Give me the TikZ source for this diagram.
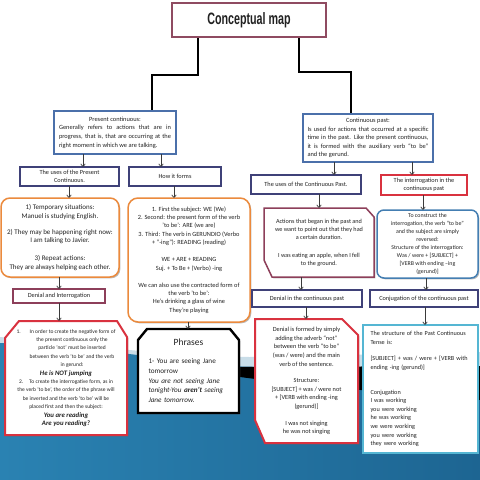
\documentclass[tikz,border=0pt]{standalone}
\usepackage{fontspec}
\usepackage{graphicx}
\setmainfont{Carlito}
\newfontfamily\titlefont{Liberation Sans}
\usetikzlibrary{shadows,arrows.meta,calc}
\pgfdeclarelayer{back}
\pgfdeclarelayer{bg}
\pgfsetlayers{back,bg,main}
\newcommand\myfs[2]{\fontsize{#1}{#2}\selectfont}
\definecolor{textc}{HTML}{222222}
\definecolor{navyc}{HTML}{3F4178}
\definecolor{bluec}{HTML}{4B70AA}
\definecolor{orangec}{HTML}{EB8A3D}
\definecolor{maroonc}{HTML}{8D3F5A}
\definecolor{redc}{HTML}{D9323F}
\definecolor{tealc}{HTML}{55B6D3}
\definecolor{titlec}{HTML}{8F4B61}
\definecolor{bandc}{HTML}{C9DDE8}
\definecolor{blueL}{HTML}{2A82B2}
\definecolor{blueM}{HTML}{5DBADC}
\definecolor{blueR}{HTML}{1D6592}
\definecolor{arrc}{HTML}{3A3A3A}
\begin{document}
\begin{tikzpicture}[x=1pt,y=-1pt,
  mybox/.style={inner sep=0pt,outer sep=0pt,align=center,text=textc,font=\myfs{6.3}{8}},
  boxshadow/.style={drop shadow={shadow xshift=1.3pt,shadow yshift=-1.3pt,fill=black!60,opacity=.45}},
  titlebox/.style={mybox,draw=titlec,line width=1.8pt,fill=white,boxshadow},
  navybox/.style={mybox,draw=navyc,line width=1.4pt,fill=white,boxshadow},
  bluebox/.style={mybox,draw=bluec,line width=1.6pt,fill=white,boxshadow},
  orangebox/.style={mybox,draw=orangec,line width=1.5pt,fill=white,rounded corners=9pt,boxshadow},
  maroonbox/.style={mybox,draw=maroonc,line width=1.4pt,fill=white,boxshadow},
  redbox/.style={mybox,draw=redc,line width=1.4pt,fill=white,boxshadow},
  tealbox/.style={mybox,draw=tealc,line width=2.6pt,fill=white,boxshadow},
  roundblue/.style={mybox,draw=bluec!90!cyan,line width=1.5pt,fill=white,rounded corners=7pt,boxshadow},
  redline/.style={draw=redc,line width=2pt,fill=white,boxshadow,line join=miter},
  maroonline/.style={draw=maroonc,line width=1.5pt,fill=white,boxshadow,line join=miter},
  blackline/.style={draw=black,line width=2.4pt,fill=white,boxshadow,line join=miter},
  arr/.style={draw=arrc,line width=0.7pt,-{Straight Barb[length=2.6pt,width=4.6pt]}},
  trunk/.style={draw=black,line width=2.8pt,line join=miter},
  trunkshadow/.style={draw=black!35,line width=2.8pt,line join=miter}
]
\useasboundingbox (0,0) rectangle (480,480);
% ---------------- background
\begin{pgfonlayer}{back}
\fill[white] (0,0) rectangle (480,480);
\fill[bandc] (0,337) .. controls (120,350) and (200,357) .. (250,357) -- (480,352) -- (480,480) -- (0,480) -- cycle;
\shade[left color=blueL,middle color=blueM,right color=blueR] (0,343) .. controls (80,347) and (150,356) .. (220,366) -- (480,372) -- (480,480) -- (0,480) -- cycle;
\fill[black] (175,362) .. controls (200,366) and (220,367) .. (240,367) -- (480,366) -- (480,400) .. controls (400,394) and (300,385) .. (240,377) .. controls (210,373) and (190,368) .. (175,362) -- cycle;
\end{pgfonlayer}
% ---------------- nodes
\node[titlebox,minimum width=154pt,minimum height=34pt] (T) at (249,20)
  {\scalebox{0.65}[1]{\myfs{16.5}{18}\titlefont\bfseries Conceptual map}};
\node[bluebox,minimum width=122pt,minimum height=43pt,text width=112pt,align=justify,font=\myfs{6.4}{8.7}] (PC) at (115,132.5)
  {\makebox[\linewidth]{Present continuous:}\\ Generally refers to actions that are in\linebreak progress, that is, that are occurring at the\linebreak right moment in which we are talking.};
\node[bluebox,minimum width=130pt,minimum height=48pt,text width=121pt,align=justify,font=\myfs{6.4}{8.6}] (CP) at (368,138)
  {\makebox[\linewidth]{Continuous past:}\\ Is used for actions that occurred at a specific\linebreak time in the past. Like the present continuous,\linebreak it is formed with the auxiliary verb “to be”\linebreak and the gerund.};
\node[navybox,minimum width=99pt,minimum height=19pt] (U1) at (69.5,176.5) {The uses of the Present\\ Continuous.};
\node[navybox,minimum width=92pt,minimum height=19pt] (HF) at (175,176.5) {How it forms};
\node[orangebox,minimum width=118pt,minimum height=79pt,font=\myfs{7}{8.8}] (O1) at (60,237.5)
  {1) Temporary situations:\\ Manuel is studying English.\\[7pt] 2) They may be happening right now:\\ I am talking to Javier.\\[9pt] 3) Repeat actions:\\ They are always helping each other.};
\node[maroonbox,minimum width=92pt,minimum height=14pt] (D1) at (59,296) {Denial and Interrogation};
\node[mybox,minimum width=122pt,minimum height=114pt,font=\myfs{5.5}{8.4}] (R1) at (66,378)
  {1.\hspace{9pt}In order to create the negative form of\\
   \hspace*{12pt}the present continuous only the\\
   \hspace*{12pt}particle 'not' must be inserted\\
   \hspace*{12pt}between the verb 'to be' and the verb\\
   \hspace*{12pt}in gerund:\\
   {\myfs{6.8}{8.4}\bfseries\itshape He is NOT jumping}\\
   2.\hspace{6pt}To create the interrogative form, as in\\
   the verb 'to be', the order of the phrase will\\
   be inverted and the verb 'to be' will be\\
   placed first and then the subject:\\
   {\myfs{6.8}{8.4}\bfseries\itshape You are reading}\\
   {\myfs{6.8}{8.4}\bfseries\itshape Are you reading?}};
\node[orangebox,minimum width=122pt,minimum height=124pt,rounded corners=10pt,font=\myfs{6.35}{8.3}] (O2) at (189,260)
  {1. First the subject: WE (We)\\ 2. Second: the present form of the verb\\ 'to be': ARE (we are)\\ 3. Third: The verb in GERUNDIO (Verbo\\ + ”-ing”): READING (reading)\\[9pt]
   WE + ARE + READING\\ Suj. + To Be + (Verbo) -ing\\[9pt]
   We can also use the contracted form of\\ the verb 'to be':\\ He's drinking a glass of wine\\ They're playing};
\node[mybox,minimum width=101pt,minimum height=84pt,text width=80pt,align=left,font=\myfs{7.2}{9.8}] (PH) at (188.5,371)
  {\makebox[\linewidth]{\myfs{9.5}{11}Phrases}\\[8pt]
   1- You are seeing Jane\\ tomorrow\\ \textit{You are not seeing Jane}\\ \textit{tonight-You \textbf{aren't} seeing}\\ \textit{Jane tomorrow.}};
\node[navybox,minimum width=110pt,minimum height=19pt] (UC) at (306,184.5) {The uses of the Continuous Past.};
\node[redbox,minimum width=86pt,minimum height=20pt] (IC) at (424,185) {The interrogation in the\\ continuous past};
\node[mybox,minimum width=110pt,minimum height=69pt,font=\myfs{6.2}{8}] (M) at (319,242.5)
  {Actions that began in the past and\\ we want to point out that they had\\ a certain duration.\\[10pt] I was eating an apple, when I fell\\ to the ground.};
\node[roundblue,minimum width=101pt,minimum height=68pt,font=\myfs{5.9}{8.1}] (B) at (427.5,244)
  {To construct the\\ interrogation, the verb “to be”\\ and the subject are simply\\ reversed:\\ Structure of the interrogation:\\ Was / were + {[}SUBJECT{]} +\\ {[}VERB with ending –ing\\ (gerund){]}};
\node[navybox,minimum width=110pt,minimum height=17pt] (DC) at (307,298.5) {Denial in the continuous past};
\node[navybox,minimum width=108pt,minimum height=17pt] (CC) at (424,298.5) {Conjugation of the continuous past};
\node[mybox,minimum width=103pt,minimum height=124pt,font=\myfs{6.3}{8.6}] (R2) at (306.5,381)
  {Denial is formed by simply\\ adding the adverb “not”\\ between the verb “to be”\\ (was / were) and the main\\ verb of the sentence.\\[8pt]
   Structure:\\ {[}SUBJECT{]} + was / were not\\ + {[}VERB with ending -ing\\ (gerund){]}\\[8pt]
   I was not singing\\ he was not singing};
\node[tealbox,minimum width=115pt,minimum height=128pt,text width=100pt,align=left,font=\myfs{6.2}{8.6}] (TB) at (420.5,389)
  {The structure of the Past Continuous\\ Tense is:\\[8pt]
   {[}SUBJECT{]} + was / were + {[}VERB with\\ ending -ing (gerund){]}\\[16pt]
   Conjugation\\ I was working\\ you were working\\ he was working\\ we were working\\ you were working\\ they were working};
% ---------------- outlines of cut-corner boxes and trunks
\begin{pgfonlayer}{bg}
\draw[redline] ([xshift=14pt]R1.north west) -- ([xshift=-10pt]R1.north east) -- ([yshift=-16pt]R1.north east) -- (R1.south east) -- (R1.south west) -- ([yshift=-17pt]R1.north west) -- cycle;
\draw[blackline] ([xshift=9pt]PH.north west) -- ([xshift=-9pt]PH.north east) -- ([yshift=-11pt]PH.north east) -- (PH.south east) -- (PH.south west) -- ([yshift=-11pt]PH.north west) -- cycle;
\draw[maroonline] (M.north west) -- ([xshift=-8pt]M.north east) -- ([yshift=-9pt]M.north east) -- (M.south east) -- ([xshift=8pt]M.south west) -- ([yshift=17pt]M.south west) -- cycle;
\draw[redline] (R2.north west) -- ([xshift=-16pt]R2.north east) -- ([yshift=-16pt]R2.north east) -- (R2.south east) -- ([xshift=10pt]R2.south west) -- ([yshift=23pt]R2.south west) -- cycle;
\draw[trunkshadow,xshift=1.4pt,yshift=-1.4pt] ([xshift=26pt]T.south west) -- ++(0,38) -| ([xshift=-24pt]PC.north east);
\draw[trunkshadow,xshift=1.4pt,yshift=-1.4pt] ([xshift=-27pt]T.south east) -- ++(0,35) -| ([xshift=48pt]CP.north west);
\draw[trunk] ([xshift=26pt]T.south west) -- ++(0,38) -| ([xshift=-24pt]PC.north east);
\draw[trunk] ([xshift=-27pt]T.south east) -- ++(0,35) -| ([xshift=48pt]CP.north west);
\end{pgfonlayer}
% ---------------- arrows
\coordinate (ta) at ([xshift=63pt]U1.north west);
\coordinate (tb) at ([xshift=32pt]HF.north west);
\coordinate (tc) at ([xshift=68pt]O1.north west);
\coordinate (td) at ([xshift=46pt]O2.north west);
\coordinate (te) at ([xshift=46pt]D1.north west);
\coordinate (tf) at ([xshift=54pt]R1.north west);
\coordinate (tg) at ([xshift=50pt]PH.north west);
\coordinate (th) at ([xshift=83pt]UC.north west);
\coordinate (ti) at ([xshift=31pt]IC.north west);
\coordinate (tj) at ([xshift=55pt]M.north west);
\coordinate (tk) at ([xshift=46pt]B.north west);
\coordinate (tl) at ([xshift=49pt]DC.north west);
\coordinate (tm) at ([xshift=56pt]CC.north west);
\coordinate (tn) at ([xshift=51pt]R2.north west);
\coordinate (to) at ([xshift=62pt]TB.north west);
\draw[arr] (PC.south -| ta) -- (ta);
\draw[arr] (PC.south -| tb) -- (tb);
\draw[arr] (U1.south -| tc) -- (tc);
\draw[arr] (HF.south -| td) -- (td);
\draw[arr] (O1.south -| te) -- (te);
\draw[arr] (D1.south -| tf) -- (tf);
\draw[arr] (O2.south -| tg) -- (tg);
\draw[arr] (CP.south -| th) -- (th);
\draw[arr] (CP.south -| ti) -- (ti);
\draw[arr] (UC.south -| tj) -- (tj);
\draw[arr] (IC.south -| tk) -- (tk);
\draw[arr] (M.south -| tl) -- (tl);
\draw[arr] (B.south -| tm) -- (tm);
\draw[arr] (DC.south -| tn) -- (tn);
\draw[arr] (CC.south -| to) -- (to);
\end{tikzpicture}
\end{document}
